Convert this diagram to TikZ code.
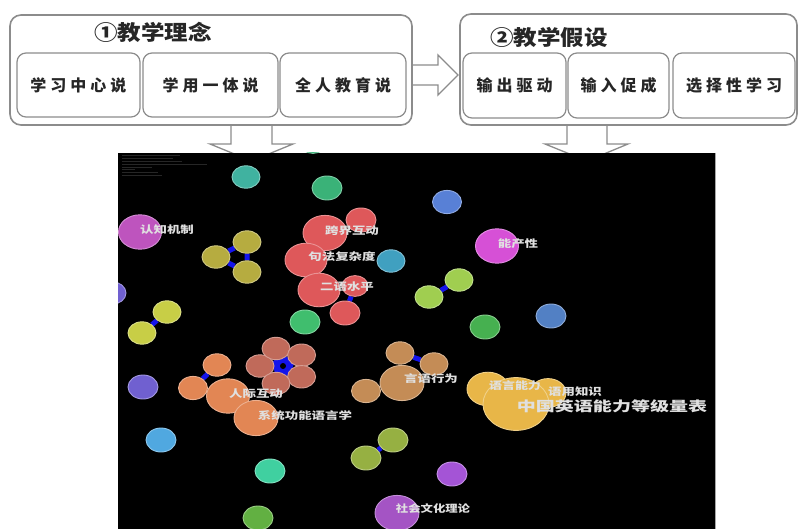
\documentclass[tikz,border=0pt]{standalone}
\usepackage{fontspec}
\usepackage{graphicx}
\newfontfamily\cjk{Noto Sans CJK SC}
\usetikzlibrary{shapes.geometric}
\definecolor{cteal}{RGB}{64,178,160}
\definecolor{cgreen}{RGB}{58,178,120}
\definecolor{cblue}{RGB}{88,128,214}
\definecolor{cmag}{RGB}{190,84,190}
\definecolor{colive}{RGB}{182,172,64}
\definecolor{cred}{RGB}{222,88,90}
\definecolor{ctealb}{RGB}{64,160,192}
\definecolor{clgreen}{RGB}{160,206,80}
\definecolor{cgreentwo}{RGB}{64,190,110}
\definecolor{cyg}{RGB}{200,206,70}
\definecolor{cbp}{RGB}{112,96,208}
\definecolor{cpink}{RGB}{214,80,214}
\definecolor{cgreenthree}{RGB}{70,176,80}
\definecolor{cbluetwo}{RGB}{82,128,196}
\definecolor{csalmon}{RGB}{192,106,90}
\definecolor{corange}{RGB}{226,134,84}
\definecolor{clblue}{RGB}{80,168,224}
\definecolor{ctg}{RGB}{64,208,160}
\definecolor{cgreenfour}{RGB}{98,176,66}
\definecolor{colg}{RGB}{150,176,66}
\definecolor{cpurple}{RGB}{164,84,196}
\definecolor{cpurpletwo}{RGB}{164,84,214}
\definecolor{ctan}{RGB}{196,140,86}
\definecolor{cyellow}{RGB}{232,182,72}
\definecolor{clink}{RGB}{20,20,235}
\definecolor{cframe}{RGB}{140,140,140}
\pgfdeclarelayer{back}
\pgfdeclarelayer{mid}
\pgfsetlayers{back,mid,main}
\newcommand\kgap{\hspace{4pt}}
\newcommand\bub[5]{\node[bubble=#5, minimum width={2*#4pt}, minimum height={1.6*#4pt}] (#1) at (#2,#3) {};}
\tikzset{
  bubble/.style={ellipse, inner sep=0pt, fill=#1, draw=#1!65!white, line width=0.9pt},
  link/.style={draw=clink, line width=5pt},
  outerbox/.style={draw=cframe, line width=1.6pt, rounded corners=11pt, fill=white, inner sep=0pt},
  innerbox/.style={draw=cframe, line width=1.2pt, rounded corners=9pt, fill=white, inner sep=0pt,
    font=\cjk\bfseries\fontsize{16}{16}\selectfont, text=black!85},
  titletext/.style={font=\cjk\bfseries\fontsize{21}{21}\selectfont, inner sep=0pt, text=black!85},
  blockarrow/.style={draw=cframe, line width=1.3pt, fill=white, line join=miter},
  tag/.style={font=\cjk\bfseries\fontsize{12}{12}\selectfont, text=white!88!black, inner sep=0pt},
  bigtag/.style={font=\cjk\bfseries\fontsize{17}{17}\selectfont, text=white!88!black, inner sep=0pt},
}
\begin{document}
\begin{tikzpicture}[x=1pt,y=-1pt]
\useasboundingbox (0,0) rectangle (798,529);

% ---------- background, block arrows and black field ----------
\begin{pgfonlayer}{back}
\fill[white] (0,0) rectangle (798,529);
\draw[blockarrow] (400,65) -- (438,65) -- (438,55) -- (458,75) -- (438,95) -- (438,85) -- (400,85);
\draw[blockarrow] (231,115) -- (231,144) -- (210,144) -- (251.5,161) -- (293,144) -- (272,144) -- (272,115);
\draw[blockarrow] (567,115) -- (567,144) -- (545,144) -- (587,161) -- (628,144) -- (607,144) -- (607,115);
\fill[black] (118,153) rectangle (715,529);
\draw[gray!70, line width=1pt] (715.5,153) -- (715.5,529);
\foreach \yy/\xe in {156/180,158.8/173,161.6/182,164.4/207,167.2/152,170/135,172.8/158,175.6/162}
  \draw[gray!30!black, line width=1pt] (122,\yy) -- (\xe,\yy);
\end{pgfonlayer}

% ---------- top frames ----------
\node[outerbox, minimum width=402pt, minimum height=110pt] (frameA) at (211,70) {};
\node[outerbox, minimum width=337pt, minimum height=111pt] (frameB) at (628.5,69.5) {};
\node[titletext] (titleA) at (153,32) {\scalebox{1.12}[1]{①教学理念}};
\node[titletext] (titleB) at (549,37) {\scalebox{1.12}[1]{②教学假设}};
\node[innerbox, minimum width=123pt, minimum height=64pt] (a1) at (78.5,85) {学\kgap 习\kgap 中\kgap 心\kgap 说};
\node[innerbox, minimum width=135pt, minimum height=64pt] (a2) at (210.5,85) {学\kgap 用\kgap 一\kgap 体\kgap 说};
\node[innerbox, minimum width=126pt, minimum height=64pt] (a3) at (343,85) {全\kgap 人\kgap 教\kgap 育\kgap 说};
\node[innerbox, minimum width=103pt, minimum height=65pt] (b1) at (514.5,85.5) {输\kgap 出\kgap 驱\kgap 动};
\node[innerbox, minimum width=101pt, minimum height=65pt] (b2) at (618.5,85.5) {输\kgap 入\kgap 促\kgap 成};
\node[innerbox, minimum width=122pt, minimum height=65pt] (b3) at (734,85.5) {选\kgap 择\kgap 性\kgap 学\kgap 习};

% ---------- bubbles ----------
\begin{scope}
\clip (118,153) rectangle (715,529);
\bub{g0}{313}{143}{13}{cgreen}
\bub{n1}{246}{177}{14}{cteal}
\bub{n2}{327}{188}{15}{cgreen}
\bub{n3}{447}{202}{14.5}{cblue}
\bub{n4}{140}{232}{21.5}{cmag}
\bub{o1}{247}{242}{14}{colive}
\bub{o2}{216}{257}{14}{colive}
\bub{o3}{247}{272}{14}{colive}
\bub{r1}{361}{220}{15}{cred}
\bub{r2}{325}{233}{22}{cred}
\bub{r3}{306}{260}{21}{cred}
\bub{r4}{355}{286}{13}{cred}
\bub{r5}{319}{290}{21}{cred}
\bub{r6}{345}{313}{15}{cred}
\bub{n5}{391}{261}{14}{ctealb}
\bub{n6}{429}{297}{14}{clgreen}
\bub{n7}{459}{280}{14}{clgreen}
\bub{n8}{305}{322}{15}{cgreentwo}
\bub{y1}{167}{312}{14}{cyg}
\bub{y2}{142}{333}{14}{cyg}
\bub{n9}{112}{293}{14}{cbp}
\bub{n10}{497}{246}{21.5}{cpink}
\bub{n11}{485}{327}{15}{cgreenthree}
\bub{n12}{551}{316}{15}{cbluetwo}
\bub{f1}{260}{366}{14}{csalmon}
\bub{f2}{276}{348.5}{14}{csalmon}
\bub{f3}{301.6}{355.2}{14}{csalmon}
\bub{f4}{301.6}{376.8}{14}{csalmon}
\bub{f5}{276}{383.5}{14}{csalmon}
\bub{q1}{217}{365}{14}{corange}
\bub{q2}{193}{388}{14.5}{corange}
\bub{q3}{228}{396}{21.5}{corange}
\bub{q4}{256}{418}{22}{corange}
\bub{n13}{143}{387}{15}{cbp}
\bub{n14}{161}{440}{15}{clblue}
\bub{n15}{270}{471}{15}{ctg}
\bub{n16}{258}{518}{15}{cgreenfour}
\bub{v1}{393}{440}{15}{colg}
\bub{v2}{366}{458}{15}{colg}
\bub{n17}{397}{513}{22}{cpurple}
\bub{n18}{452}{474}{15}{cpurpletwo}
\bub{t1}{400}{353}{14}{ctan}
\bub{t2}{434}{364}{14}{ctan}
\bub{t3}{366}{391}{14.5}{ctan}
\bub{t4}{402}{383}{22}{ctan}
\bub{w1}{488}{389}{21}{cyellow}
\bub{w2}{548}{393}{18}{cyellow}
\bub{w3}{516}{404}{33}{cyellow}
\end{scope}

% ---------- links (under bubbles) ----------
\begin{pgfonlayer}{mid}
\node[regular polygon, regular polygon sides=5, fill=clink, minimum size=24pt, inner sep=0pt] (hub) at (283,366) {};
\node[circle, fill=black, minimum size=6pt, inner sep=0pt] (hubdot) at (283,366) {};
\draw[link] (o1) -- (o2) (o2) -- (o3) (o1) -- (o3);
\draw[link] (y1) -- (y2);
\draw[link] (r4) -- (r6);
\draw[link] (n6) -- (n7);
\draw[link] (q1) -- (q2);
\draw[link] (t1) -- (t2);
\draw[link] (v1) -- (v2);
\end{pgfonlayer}

% ---------- keyword labels ----------
\node[tag] (l1) at (167,230) {\scalebox{1.12}[0.85]{认知机制}};
\node[tag] (l2) at (352,231) {\scalebox{1.12}[0.85]{跨界互动}};
\node[tag] (l3) at (342,257) {\scalebox{1.12}[0.85]{句法复杂度}};
\node[tag] (l4) at (347,287) {\scalebox{1.12}[0.85]{二语水平}};
\node[tag] (l5) at (518,244) {\scalebox{1.12}[0.85]{能产性}};
\node[tag] (l6) at (256,394) {\scalebox{1.12}[0.85]{人际互动}};
\node[tag] (l7) at (305,416) {\scalebox{1.12}[0.85]{系统功能语言学}};
\node[tag] (l8) at (431,379) {\scalebox{1.12}[0.85]{言语行为}};
\node[tag] (l9) at (515,386) {\scalebox{1.08}[0.85]{语言能力}};
\node[tag] (l10) at (575,392) {\scalebox{1.12}[0.85]{语用知识}};
\node[bigtag] (l11) at (612,406) {\scalebox{1.12}[0.8]{中国英语能力等级量表}};
\node[tag] (l12) at (433,509) {\scalebox{1.03}[0.85]{社会文化理论}};
\end{tikzpicture}
\end{document}
